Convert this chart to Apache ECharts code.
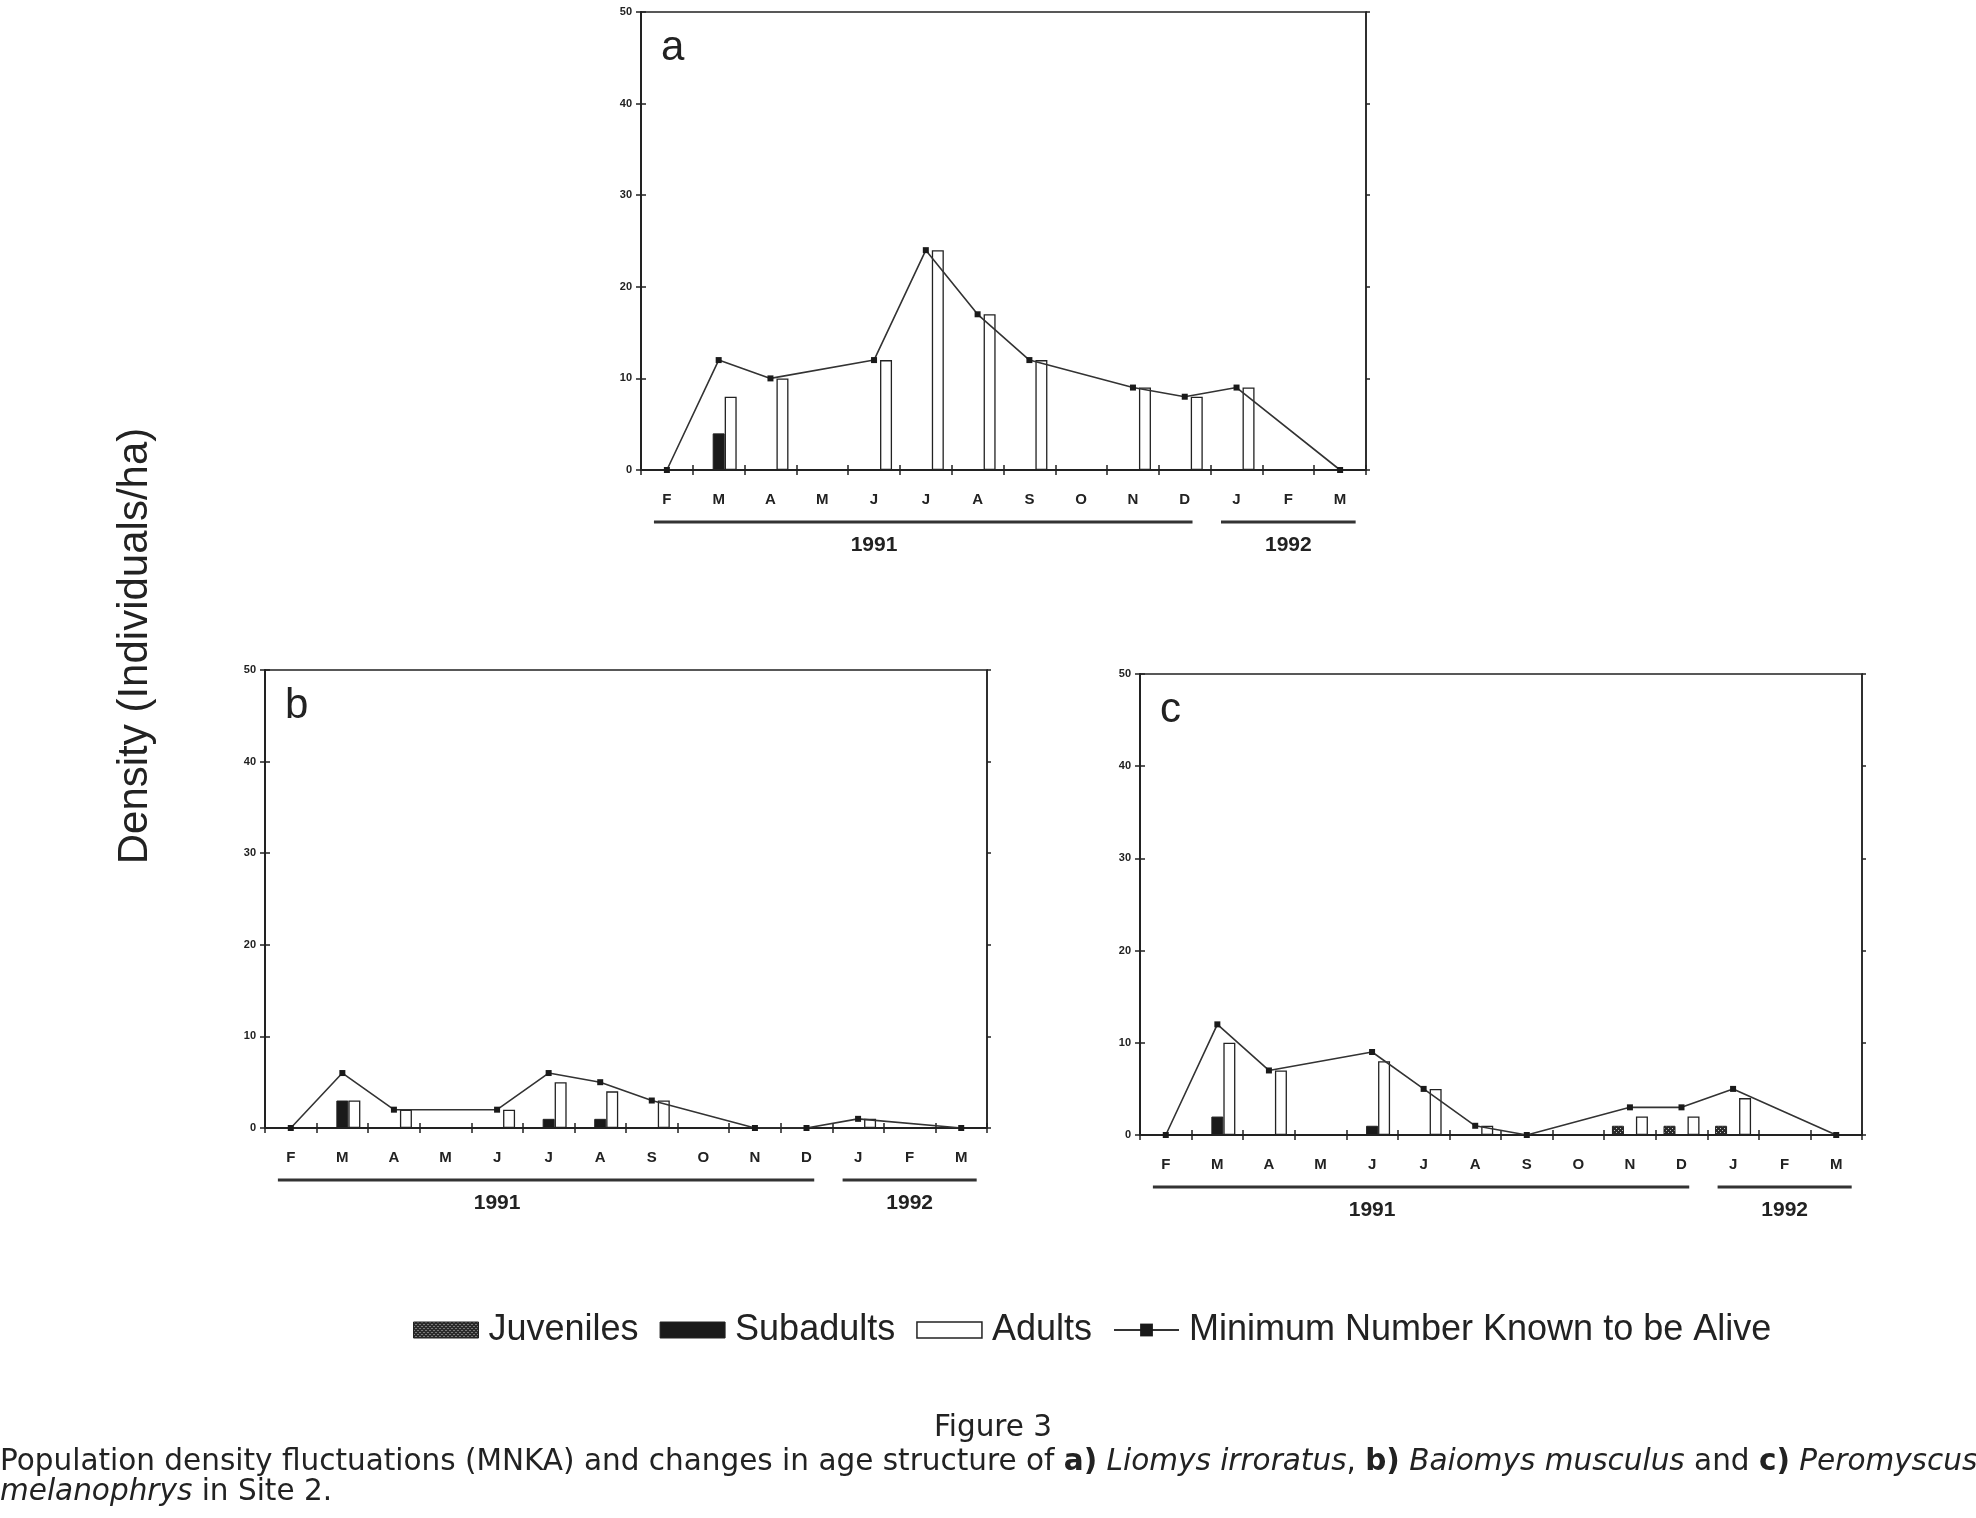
<!DOCTYPE html>
<html><head><meta charset="utf-8">
<script src="https://cdn.jsdelivr.net/npm/echarts@6/dist/echarts.min.js"></script>
<style>html,body{margin:0;padding:0;background:#fff}#c{width:1976px;height:1518px}</style>
</head><body><div id="c"></div>
<script>
// ---- data ----
const months = ['F','M','A','M','J','J','A','S','O','N','D','J','F','M'];
const yearLabels = ['1991', '1992'];
const panelLetters = ['a', 'b', 'c'];
const seriesNames = ['Juveniles', 'Subadults', 'Adults', 'Minimum Number Known to be Alive'];
const yMin = 0, yMax = 50, yStep = 10;

// Panel a: Liomys irroratus
const juvA   = [null,null,null,null,null,null,null,null,null,null,null,null,null,null];
const subA   = [null,4,null,null,null,null,null,null,null,null,null,null,null,null];
const adultA = [null,8,10,null,12,24,17,12,null,9,8,9,null,null];
const mnkaA  = [0,12,10,null,12,24,17,12,null,9,8,9,null,0];

// Panel b: Baiomys musculus
const juvB   = [null,null,null,null,null,null,null,null,null,null,null,null,null,null];
const subB   = [null,3,null,null,null,1,1,null,null,null,null,null,null,null];
const adultB = [null,3,2,null,2,5,4,3,null,null,null,1,null,null];
const mnkaB  = [0,6,2,null,2,6,5,3,null,0,0,1,null,0];

// Panel c: Peromyscus melanophrys
const juvC   = [null,null,null,null,null,null,null,null,null,1,1,1,null,null];
const subC   = [null,2,null,null,1,null,null,null,null,null,null,null,null,null];
const adultC = [null,10,7,null,8,5,1,null,null,2,2,4,null,null];
const mnkaC  = [0,12,7,null,9,5,1,0,null,3,3,5,null,0];

const panels = [
  {juv: juvA, sub: subA, adult: adultA, mnka: mnkaA},
  {juv: juvB, sub: subB, adult: adultB, mnka: mnkaB},
  {juv: juvC, sub: subC, adult: adultC, mnka: mnkaC}
];

// ---- layout ----
const layouts = [
  {left: 641, top: 12, width: 725, height: 458},
  {left: 265, top: 670, width: 722, height: 458},
  {left: 1140, top: 674, width: 722, height: 461}
];
const INK = '#222';
const SANS = 'Liberation Sans';

function makePattern() {
  const c = document.createElement('canvas');
  c.width = 4; c.height = 4;
  const g = c.getContext('2d');
  g.fillStyle = '#2a2a2a'; g.fillRect(0, 0, 4, 4);
  g.fillStyle = '#c8c8c8'; g.fillRect(0, 0, 1, 1); g.fillRect(2, 2, 1, 1);
  return c;
}
const juvFill = {image: makePattern(), repeat: 'repeat'};

const chart = echarts.init(document.getElementById('c'), null, {renderer: 'canvas'});

const grid = [], xAxis = [], yAxis = [], series = [];
layouts.forEach((L, k) => {
  grid.push({left: L.left, top: L.top, width: L.width, height: L.height, show: true,
    borderColor: INK, borderWidth: 1.5, backgroundColor: 'transparent', containLabel: false});
  xAxis.push({type: 'category', gridIndex: k, data: months, position: 'bottom', boundaryGap: true,
    axisLine: {show: true, lineStyle: {color: INK, width: 2}},
    axisTick: {show: true, interval: 0, length: 5, inside: false, lineStyle: {color: INK, width: 1.5}},
    axisLabel: {interval: 0, margin: 22, fontSize: 15, fontWeight: 'bold', color: INK, fontFamily: SANS},
    splitLine: {show: false}});
  xAxis.push({type: 'category', gridIndex: k, data: months, position: 'bottom', boundaryGap: true,
    axisLine: {show: false},
    axisTick: {show: true, interval: 0, length: 5, inside: true, lineStyle: {color: INK, width: 1.5}},
    axisLabel: {show: false}, splitLine: {show: false}});
  yAxis.push({type: 'value', gridIndex: k, min: yMin, max: yMax, interval: yStep, position: 'left',
    axisLine: {show: true, lineStyle: {color: INK, width: 2}},
    axisTick: {show: true, length: 5, inside: false, lineStyle: {color: INK, width: 1.5}},
    axisLabel: {fontSize: 11, fontWeight: 'bold', color: INK, margin: 9, fontFamily: SANS},
    splitLine: {show: false}});
  yAxis.push({type: 'value', gridIndex: k, min: yMin, max: yMax, interval: yStep, position: 'left',
    axisLine: {show: false},
    axisTick: {show: true, length: 5, inside: true, lineStyle: {color: INK, width: 1.5}},
    axisLabel: {show: false}, splitLine: {show: false}});
  yAxis.push({type: 'value', gridIndex: k, min: yMin, max: yMax, interval: yStep, position: 'right',
    axisLine: {show: true, lineStyle: {color: INK, width: 1.5}},
    axisTick: {show: true, length: 4, inside: false, lineStyle: {color: INK, width: 1.5}},
    axisLabel: {show: false}, splitLine: {show: false}});

  const P = panels[k];
  const xi = 2 * k, yi = 3 * k;
  series.push({name: seriesNames[0], type: 'bar', xAxisIndex: xi, yAxisIndex: yi, data: P.juv,
    barWidth: 12, barGap: '0%', itemStyle: {color: juvFill, borderColor: INK, borderWidth: 1}, z: 2});
  series.push({name: seriesNames[1], type: 'bar', xAxisIndex: xi, yAxisIndex: yi, data: P.sub,
    barWidth: 12, barGap: '0%', itemStyle: {color: '#1a1a1a', borderColor: INK, borderWidth: 1}, z: 2});
  series.push({name: seriesNames[2], type: 'bar', xAxisIndex: xi, yAxisIndex: yi, data: P.adult,
    barWidth: 12, barGap: '0%', itemStyle: {color: '#ffffff', borderColor: INK, borderWidth: 1.3}, z: 2});
  series.push({name: seriesNames[3], type: 'line', xAxisIndex: xi, yAxisIndex: yi, data: P.mnka,
    connectNulls: true, symbol: 'rect', symbolSize: 6, showSymbol: true,
    lineStyle: {color: '#333', width: 1.6}, itemStyle: {color: '#1a1a1a'}, z: 5});
});

chart.setOption({
  animation: false,
  backgroundColor: '#ffffff',
  grid, xAxis, yAxis, series,
  legend: {
    left: 408, top: 1307, itemWidth: 65, itemHeight: 16, itemGap: 21, selectedMode: false,
    textStyle: {fontSize: 36, fontFamily: SANS, color: INK, padding: [0, 0, 0, 5]},
    data: [
      {name: seriesNames[0], icon: 'rect', itemStyle: {color: juvFill, borderColor: INK, borderWidth: 1}},
      {name: seriesNames[1], icon: 'rect', itemStyle: {color: '#1a1a1a', borderColor: INK, borderWidth: 1}},
      {name: seriesNames[2], icon: 'rect', itemStyle: {color: '#ffffff', borderColor: INK, borderWidth: 1.5}},
      {name: seriesNames[3]}
    ]
  }
});

// ---- decorations computed from the axes ----
const graphics = [];
layouts.forEach((L, k) => {
  const xi = 2 * k;
  const px = i => chart.convertToPixel({xAxisIndex: xi}, i);
  const w = px(1) - px(0);
  const axisY = chart.convertToPixel({yAxisIndex: 3 * k}, 0);
  const lineY = axisY + 52;
  const txtY = axisY + 75;
  graphics.push({type: 'line', shape: {x1: px(0) - 0.25 * w, y1: lineY, x2: px(10) + 0.15 * w, y2: lineY},
    style: {stroke: '#333', lineWidth: 3}});
  graphics.push({type: 'line', shape: {x1: px(11) - 0.3 * w, y1: lineY, x2: px(13) + 0.3 * w, y2: lineY},
    style: {stroke: '#333', lineWidth: 3}});
  graphics.push({type: 'text', x: px(4), y: txtY, style: {text: yearLabels[0], align: 'center', verticalAlign: 'middle',
    font: 'bold 21px ' + SANS, fill: INK}});
  graphics.push({type: 'text', x: px(12), y: txtY, style: {text: yearLabels[1], align: 'center', verticalAlign: 'middle',
    font: 'bold 21px ' + SANS, fill: INK}});
  graphics.push({type: 'text', x: L.left + 20, y: L.top + 36, style: {text: panelLetters[k], align: 'left', verticalAlign: 'middle',
    font: '42px ' + SANS, fill: INK}});
});

graphics.push({type: 'text', x: 135, y: 646, rotation: Math.PI / 2,
  style: {text: 'Density (Individuals/ha)', align: 'center', verticalAlign: 'middle', font: '42px ' + SANS, fill: INK}});

const CAP = 'DejaVu Sans';
const CAPSIZE = 29.5;
graphics.push({type: 'text', x: 993, y: 1428,
  style: {text: 'Figure 3', align: 'center', verticalAlign: 'middle', font: CAPSIZE + 'px ' + CAP, fill: INK}});
const capRich = {
  b: {fontWeight: 'bold', fontSize: CAPSIZE, fontFamily: CAP, fill: INK},
  i: {fontStyle: 'italic', fontSize: CAPSIZE, fontFamily: CAP, fill: INK}
};
graphics.push({type: 'text', x: 0, y: 1462,
  style: {text: 'Population density fluctuations (MNKA) and changes in age structure of {b|a)} {i|Liomys irroratus}, {b|b)} {i|Baiomys musculus} and {b|c)} {i|Peromyscus}',
    rich: capRich, align: 'left', verticalAlign: 'middle', fontSize: CAPSIZE, fontFamily: CAP, fill: INK}});
graphics.push({type: 'text', x: 0, y: 1492,
  style: {text: '{i|melanophrys} in Site 2.', rich: capRich, align: 'left', verticalAlign: 'middle',
    fontSize: CAPSIZE, fontFamily: CAP, fill: INK}});

chart.setOption({graphic: graphics});
</script>
</body></html>
